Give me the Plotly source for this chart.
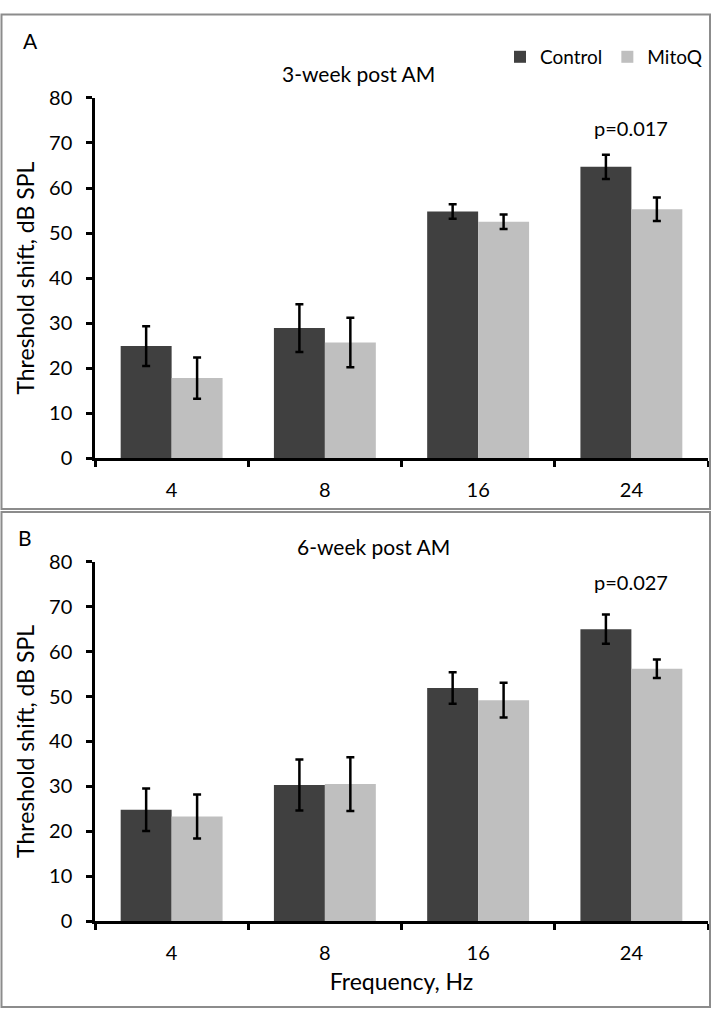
import plotly.graph_objects as go

freqs = ["4", "8", "16", "24"]
groups = ["Control", "MitoQ"]
colors = {"Control": "#404040", "MitoQ": "#BFBFBF"}

# Panel A: 3-week post AM
a_control = [24.9, 28.9, 54.8, 64.7]
a_control_err = [4.4, 5.3, 1.6, 2.7]
a_mitoq = [17.8, 25.7, 52.5, 55.3]
a_mitoq_err = [4.6, 5.5, 1.6, 2.6]

# Panel B: 6-week post AM
b_control = [24.8, 30.3, 51.9, 65.0]
b_control_err = [4.75, 5.7, 3.5, 3.25]
b_mitoq = [23.3, 30.5, 49.2, 56.2]
b_mitoq_err = [4.9, 6.0, 3.85, 2.05]

panel_titles = ["3-week post AM", "6-week post AM"]
panel_letters = ["A", "B"]
p_labels = ["p=0.017", "p=0.027"]
p_index = 3  # category index of "24"
y_title = "Threshold shift, dB SPL"
x_title = "Frequency, Hz"
y_ticks = [0, 10, 20, 30, 40, 50, 60, 70, 80]

W, H = 713, 1020
FONT = "Lato"


def px_x(x):
    return x / W


def px_y(y):
    return 1 - y / H


fig = go.Figure()

panels = [
    ("x", "y", a_control, a_control_err, a_mitoq, a_mitoq_err, True),
    ("x2", "y2", b_control, b_control_err, b_mitoq, b_mitoq_err, False),
]
for xa, ya, c, ce, m, me, show in panels:
    fig.add_trace(go.Bar(
        x=freqs, y=c, name="Control", marker_color=colors["Control"],
        marker_line_width=0, xaxis=xa, yaxis=ya, showlegend=show,
        legendgroup="Control",
        error_y=dict(type="data", array=ce, color="black", thickness=2.5, width=4),
    ))
    fig.add_trace(go.Bar(
        x=freqs, y=m, name="MitoQ", marker_color=colors["MitoQ"],
        marker_line_width=0, xaxis=xa, yaxis=ya, showlegend=show,
        legendgroup="MitoQ",
        error_y=dict(type="data", array=me, color="black", thickness=2.5, width=4),
    ))

x_dom = [px_x(95), px_x(708)]
x_range = [-0.5, len(freqs) - 0.5]
axis_common = dict(showline=True, linecolor="black", linewidth=2.5,
                   ticks="outside", tickcolor="black", tickwidth=2.5,
                   ticklen=6, showgrid=False, zeroline=False,
                   tickfont=dict(family=FONT, size=20, color="black"))

fig.update_layout(
    width=W, height=H,
    margin=dict(l=0, r=0, t=0, b=0),
    paper_bgcolor="white", plot_bgcolor="white",
    barmode="group", bargap=0.335, bargroupgap=0,
    font=dict(family=FONT, color="black"),
    showlegend=True,
    legend=dict(orientation="h", x=px_x(500), y=px_y(45), xanchor="left",
                yanchor="middle", font=dict(family=FONT, size=19),
                itemwidth=30, bgcolor="rgba(0,0,0,0)",
                tracegroupgap=0),
    xaxis=dict(type="category", domain=x_dom, anchor="y", range=x_range,
               tickson="boundaries", tickangle=0,
               ticklabelstandoff=12, **axis_common),
    yaxis=dict(domain=[px_y(456), px_y(87)], anchor="x", range=[0, 80],
               tickvals=y_ticks, ticklabelstandoff=10,
               title=dict(text=y_title, font=dict(family=FONT, size=23),
                          standoff=8),
               **axis_common),
    xaxis2=dict(type="category", domain=x_dom, anchor="y2", range=x_range,
                tickson="boundaries", tickangle=0,
                ticklabelstandoff=12,
                title=dict(text=x_title, font=dict(family=FONT, size=23),
                           standoff=12),
                **axis_common),
    yaxis2=dict(domain=[px_y(930), px_y(562)], anchor="x2", range=[0, 80],
                tickvals=y_ticks, ticklabelstandoff=10,
                title=dict(text=y_title, font=dict(family=FONT, size=23),
                           standoff=8),
                **axis_common),
)

# panel borders
fig.add_shape(type="rect", xref="paper", yref="paper",
              x0=px_x(1.5), x1=px_x(710), y0=px_y(508), y1=px_y(1.5),
              line=dict(color="#8c8c8c", width=2))
fig.add_shape(type="rect", xref="paper", yref="paper",
              x0=px_x(1.5), x1=px_x(710), y0=px_y(1018), y1=px_y(511),
              line=dict(color="#8c8c8c", width=2))

ann = []
ann.append(dict(text=panel_letters[0], x=px_x(30), y=px_y(28)))
ann.append(dict(text=panel_letters[1], x=px_x(25), y=px_y(537)))
ann.append(dict(text=panel_titles[0], x=px_x(358), y=px_y(62)))
ann.append(dict(text=panel_titles[1], x=px_x(373), y=px_y(546)))
for a in ann:
    fig.add_annotation(xref="paper", yref="paper", showarrow=False,
                       xanchor="center", yanchor="middle",
                       font=dict(family=FONT, size=21, color="black"), **a)

fig.add_annotation(xref="x", yref="paper", x=p_index, y=px_y(118),
                   text=p_labels[0], showarrow=False, yanchor="middle",
                   font=dict(family=FONT, size=20, color="black"))
fig.add_annotation(xref="x2", yref="paper", x=p_index, y=px_y(583),
                   text=p_labels[1], showarrow=False, yanchor="middle",
                   font=dict(family=FONT, size=20, color="black"))

fig.write_html(
    "out.html",
    config={"displayModeBar": False},
    post_script="document.body.style.margin='0px';document.body.style.overflow='hidden';",
)
